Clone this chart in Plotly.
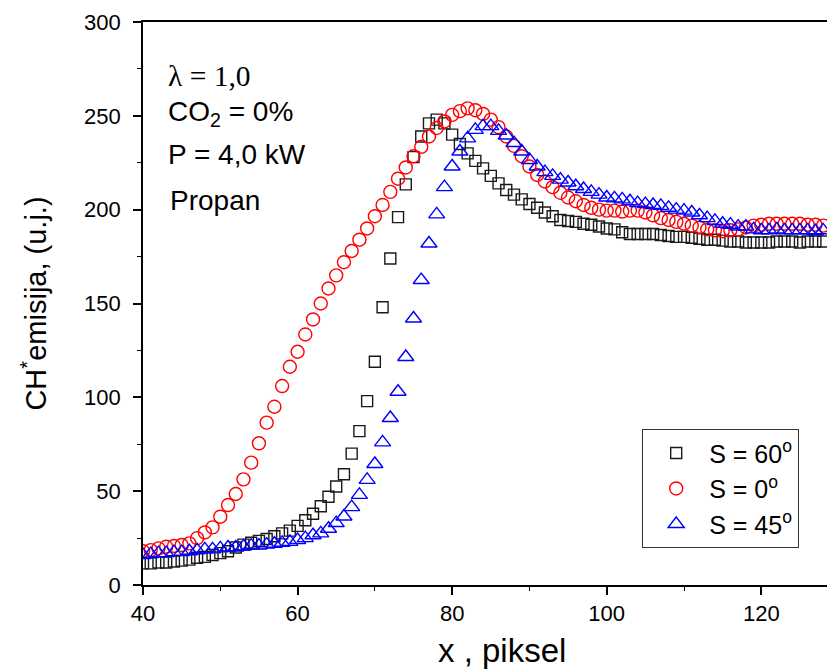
import plotly.graph_objects as go

x_pixel = list(range(40, 129))

s60 = [11.5, 11.5, 12, 12, 12.5, 13, 13.5, 14.5, 15, 16,
       17, 18, 20, 21.5, 22.5, 23.5, 24.5, 26, 27.5, 29,
       31.5, 34.5, 38, 42, 47, 52.5, 59, 70, 82, 98,
       119, 148, 174, 196, 213.5, 228, 239, 246, 248, 246,
       240, 235, 230, 226, 222, 218, 214, 210.5, 208, 205.5,
       203, 201, 198.5, 196.5, 194.5, 194, 193.5, 192.5, 192, 191,
       190, 189.5, 188, 187, 187, 187, 187, 186.5, 186, 185.5,
       185.5, 185, 184.5, 184, 184, 183.5, 183, 183, 182.5, 182.5,
       182.5, 182.5, 183, 183, 183, 182.5, 183, 183, 183]

s0 = [18, 18.6, 19.5, 20.4, 20.8, 21.3, 22.2, 25, 28, 30.7,
      36.4, 42.6, 48.5, 56.3, 65.2, 75.5, 86.5, 95, 106, 116.3,
      124.3, 133.5, 141.5, 150, 158, 165, 172, 178, 184, 190,
      196.5, 202.5, 209.5, 216.5, 222.5, 228.5, 233.5, 239, 243.5, 247,
      250.5, 252.5, 254, 253, 251, 248, 244, 239, 234, 228.5,
      223, 218.5, 215, 212, 209, 206.5, 204.5, 202.5, 201, 200,
      199.5, 199.5, 199, 199.5, 199.5, 198.5, 197, 195.5, 194.5, 193.5,
      192.5, 191.5, 190.5, 189.5, 189, 188.5, 189, 189.5, 190.5, 191.5,
      192, 192.5, 192.5, 192.5, 192.5, 192.5, 192, 192, 191.5]

s45 = [16, 16.5, 17, 17, 17.5, 17.5, 18, 18.5, 19, 19,
       19.5, 20, 20, 20.5, 21, 21, 21.5, 22, 22.5, 23,
       24, 25, 26.5, 27.5, 30, 33, 36.5, 41.5, 48, 56,
       64.5, 76, 89, 103, 121.5, 142, 162.5, 182, 197.5, 212,
       223, 231, 238, 242.5, 244.5, 244.5, 242, 239.5, 235.5, 231,
       226.5, 223, 220, 218, 216, 214.5, 212.5, 211, 209.5, 208,
       206.5, 206, 205.5, 204.5, 203.5, 203, 202.5, 202, 201, 200,
       199.5, 198.5, 197, 195.5, 194, 192.5, 192, 191, 191, 189.5,
       189, 189, 189.5, 189, 189, 189, 189, 188.5, 189]

series_names = ["S = 60<sup>o</sup>", "S = 0<sup>o</sup>", "S = 45<sup>o</sup>"]
x_ticks = [40, 60, 80, 100, 120]
y_ticks = [0, 50, 100, 150, 200, 250, 300]

FONT = "Liberation Sans, Arial, sans-serif"
SERIF = "Liberation Serif, Times New Roman, serif"

W, H = 827, 672
ML, MT, MR, MB = 143, 22, 0, 87
PW, PH = W - ML - MR, H - MT - MB

fig = go.Figure()
fig.add_trace(go.Scatter(
    x=x_pixel, y=s60, mode="markers", name=series_names[0],
    marker=dict(symbol="square-open", size=11, color="#1a1a1a",
                line=dict(width=1.4, color="#1a1a1a"))))
fig.add_trace(go.Scatter(
    x=x_pixel, y=s0, mode="markers", name=series_names[1],
    marker=dict(symbol="circle-open", size=13, color="#ff0000",
                line=dict(width=1.4, color="#ff0000"))))
fig.add_trace(go.Scatter(
    x=x_pixel, y=s45, mode="markers", name=series_names[2],
    marker=dict(symbol="triangle-up-open", size=14, color="#0000ff",
                line=dict(width=1.4, color="#0000ff"))))

def px_to_paper_x(px):
    return (px - ML) / PW

def px_to_paper_y(py):
    return 1 - (py - MT) / PH

fig.update_layout(
    width=W, height=H,
    margin=dict(l=ML, r=MR, t=MT, b=MB, autoexpand=False),
    paper_bgcolor="white", plot_bgcolor="white",
    font=dict(family=FONT, color="black"),
    showlegend=True,
    legend=dict(
        x=px_to_paper_x(642), y=px_to_paper_y(429),
        xanchor="left", yanchor="top",
        bordercolor="#333333", borderwidth=1.2, bgcolor="white",
        font=dict(family=FONT, size=25, color="black"),
        itemwidth=56, tracegroupgap=0,
    ),
    xaxis=dict(
        range=[40, 128.5], tickvals=x_ticks, ticks="outside", ticklen=8,
        tickwidth=1.5, tickcolor="black", showline=True, linecolor="black",
        linewidth=1.6, mirror=True, showgrid=False, zeroline=False,
        tickfont=dict(family=FONT, size=22),
        minor=dict(dtick=10, tick0=0, ticks="outside", ticklen=4,
                   tickwidth=1.2, tickcolor="black"),
    ),
    yaxis=dict(
        range=[0, 300], tickvals=y_ticks, ticks="outside", ticklen=8,
        tickwidth=1.5, tickcolor="black", showline=True, linecolor="black",
        linewidth=1.6, mirror=False, showgrid=False, zeroline=False,
        tickfont=dict(family=FONT, size=22), ticklabelstandoff=8,
        minor=dict(dtick=25, tick0=0, ticks="outside", ticklen=4,
                   tickwidth=1.2, tickcolor="black"),
        title=dict(text="CH<sup>*</sup>emisija, (u.j.)",
                   font=dict(family=FONT, size=29), standoff=29),
    ),
)

# x-axis title (offset to the right as in the original figure)
fig.add_annotation(
    text="x , piksel", xref="paper", yref="paper",
    x=px_to_paper_x(502), y=px_to_paper_y(650),
    xanchor="center", yanchor="middle", showarrow=False,
    font=dict(family=FONT, size=33, color="black"))

annots = [
    ("λ = 1,0", 166, 76, SERIF, 29.5),
    ("CO<sub>2</sub> = 0%", 166, 113, FONT, 28),
    ("P = 4,0 kW", 166, 155, FONT, 28),
    ("Propan", 168, 201, FONT, 28),
]
for txt, ax_px, ay_px, fam, fs in annots:
    fig.add_annotation(
        text=txt, xref="paper", yref="paper",
        x=px_to_paper_x(ax_px), y=px_to_paper_y(ay_px),
        xanchor="left", yanchor="middle", showarrow=False,
        font=dict(family=fam, size=fs, color="black"))

fig.write_html(
    "out.html",
    config={"displayModeBar": False},
    post_script="document.body.style.margin='0';document.body.style.overflow='hidden';")
